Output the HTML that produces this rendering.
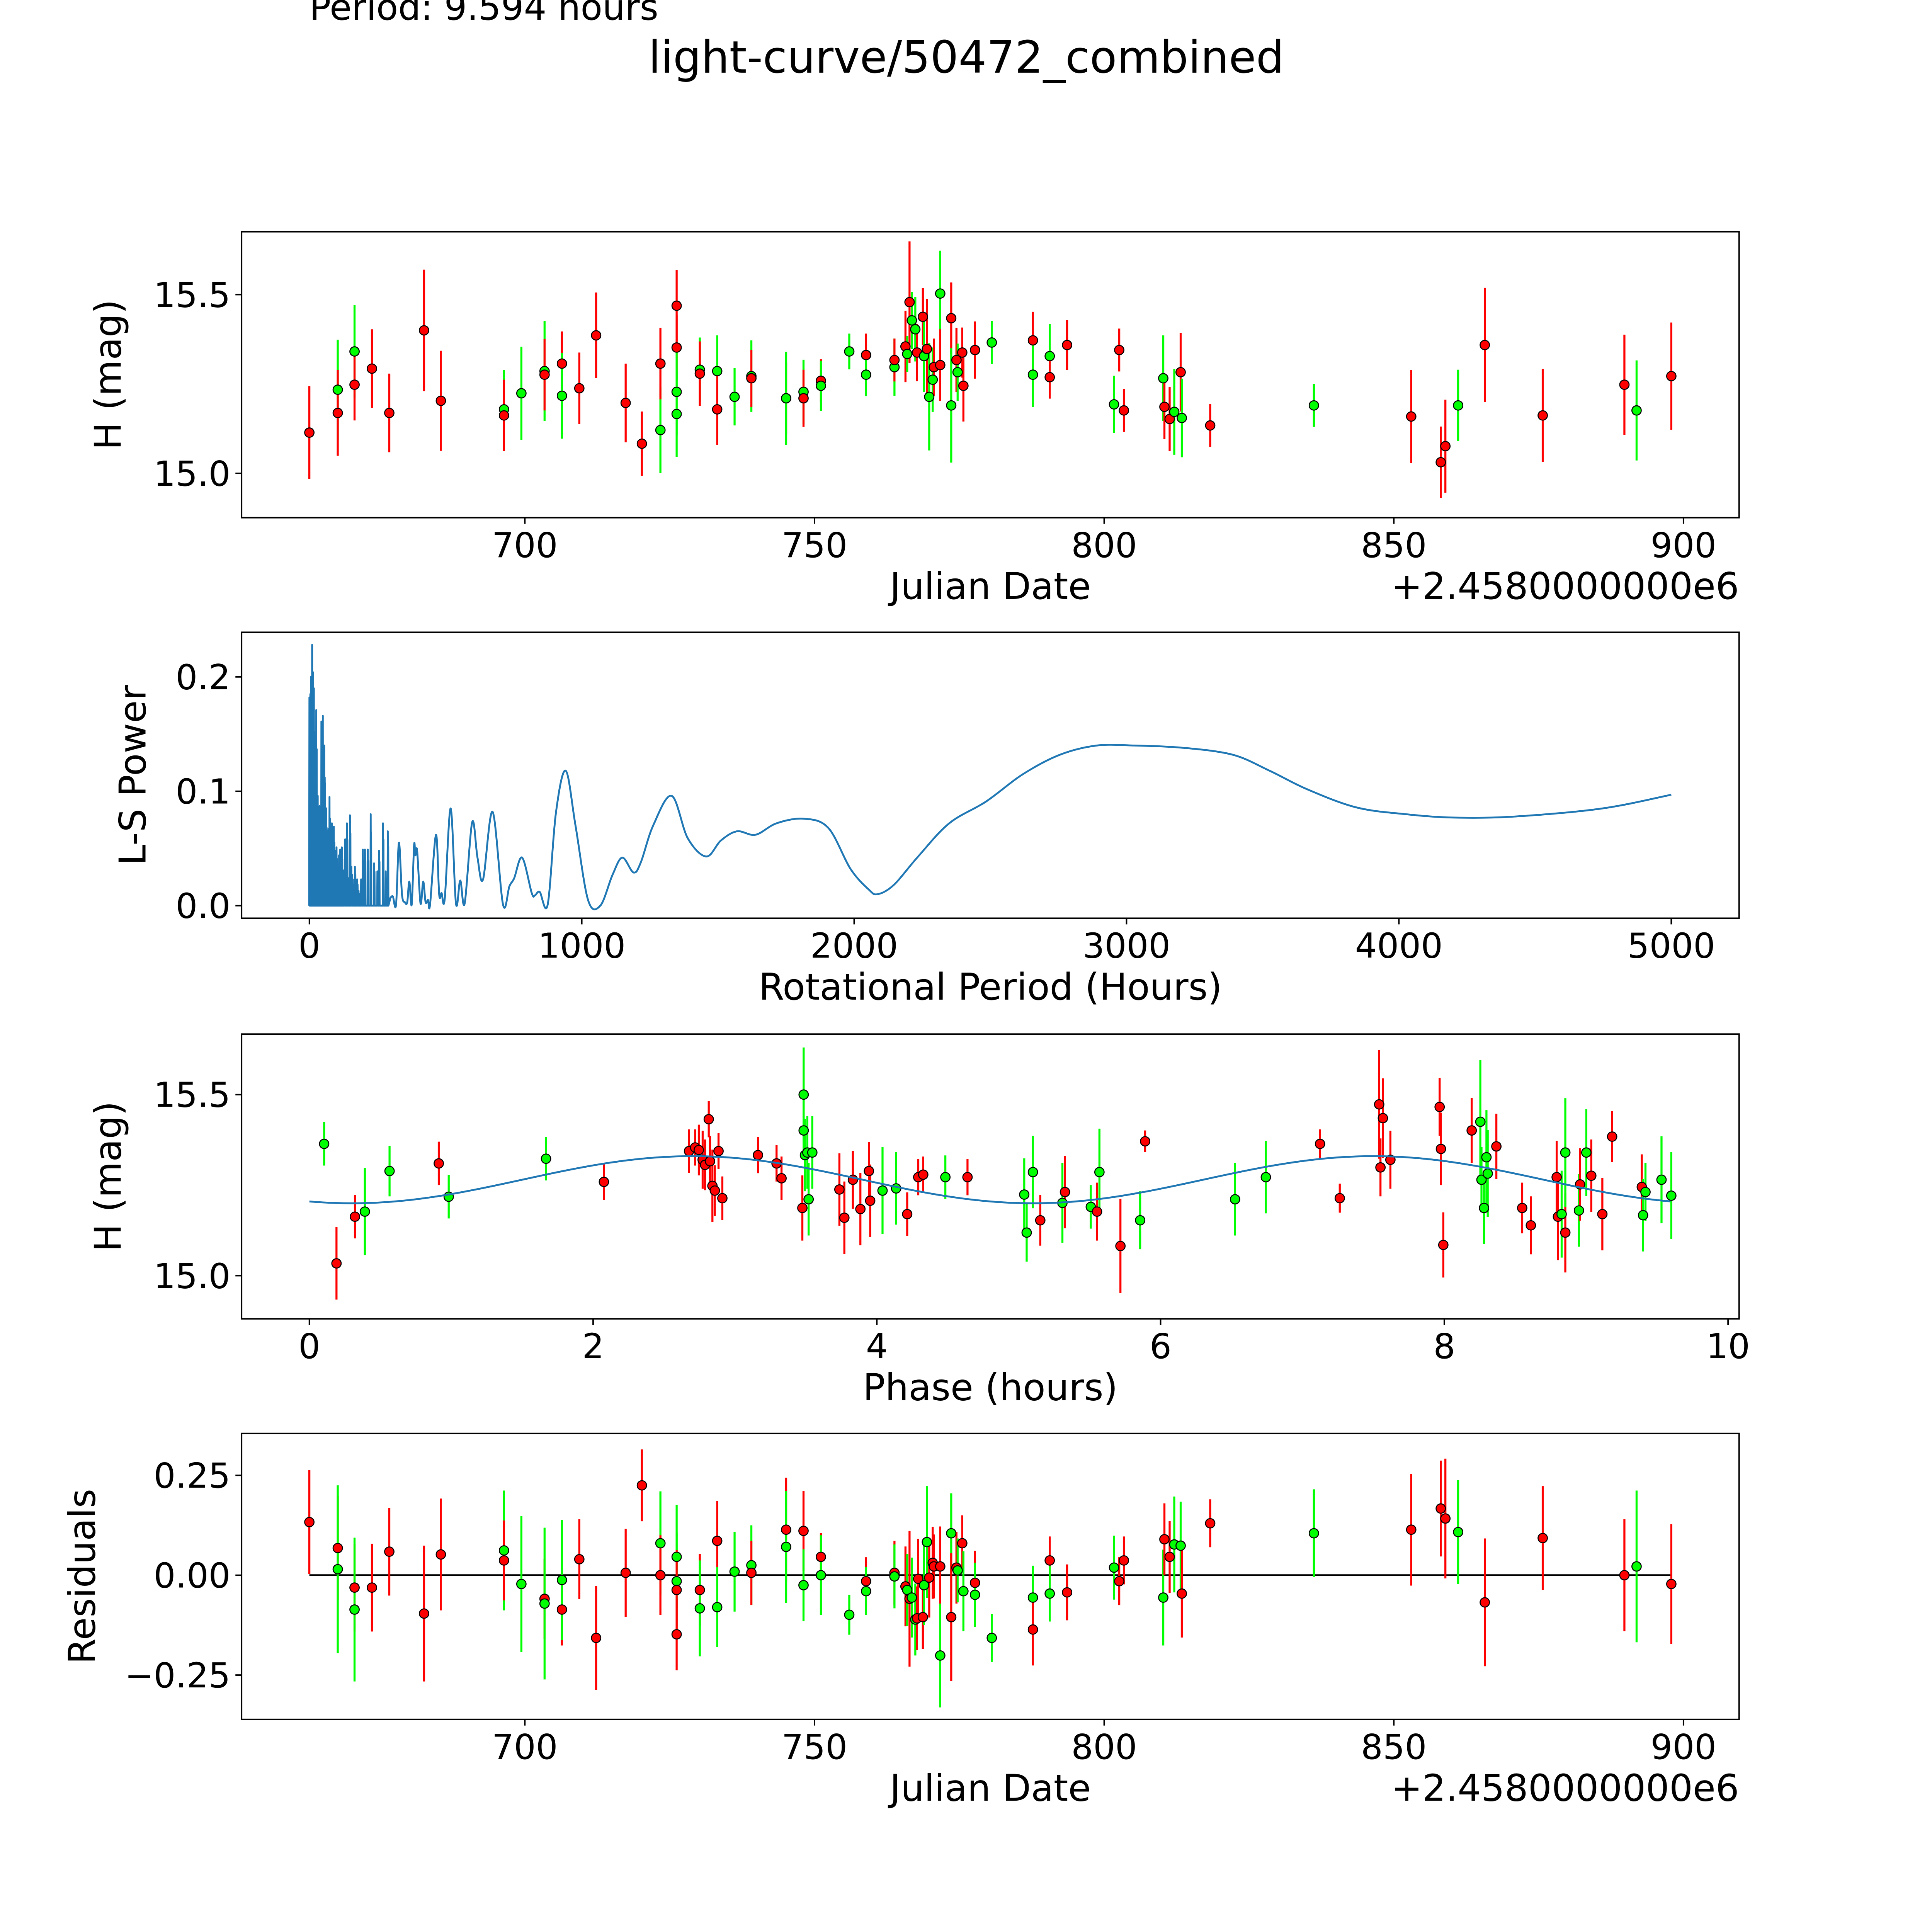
<!DOCTYPE html>
<html><head><meta charset="utf-8"><style>
html,body{margin:0;padding:0;background:#fff;width:100%;height:100%;overflow:hidden;}
svg{display:block;position:absolute;left:0;top:0;width:100vw;height:100vh;font-family:"DejaVu Sans","Liberation Sans",sans-serif;}
</style></head><body>
<svg id="fig" viewBox="0 0 1567.5 1567.5" preserveAspectRatio="none" xmlns="http://www.w3.org/2000/svg">
<rect width="1567.5" height="1567.5" fill="#fff"/>
<text x="251" y="16" font-size="29">Period: 9.594 hours</text>
<text x="784" y="59" font-size="36" text-anchor="middle">light-curve/50472_combined</text>
<g id="g1"></g>
<g id="g2"></g>
<g id="g3"></g>
<g id="g4"></g>
</svg>
<script>
// ---------- Panel 1 data: Julian date offset, H mag, error, filter ----------
const lcDate=[662.8,667.7,667.7,670.6,670.6,673.6,676.6,682.6,685.5,696.4,696.4,699.4,703.4,703.4,706.4,706.4,709.4,712.3,717.4,720.2,723.4,723.4,726.2,726.2,726.2,726.2,730.2,730.2,733.2,733.2,736.2,739.1,739.1,745.1,745.1,748.1,748.1,751.1,751.1,756.0,758.9,758.9,763.8,763.8,765.7,766.0,766.4,766.8,767.4,767.7,768.7,768.9,769.4,769.8,770.4,770.6,771.7,771.7,773.6,773.6,774.5,774.7,775.5,775.7,777.7,780.6,787.7,787.7,790.6,790.6,793.6,801.7,802.6,803.4,810.2,810.4,811.3,812.1,813.2,813.4,818.3,836.2,853.0,858.1,858.9,861.1,865.7,875.7,889.8,891.9,897.9];
const lcMag=[15.114,15.234,15.169,15.341,15.248,15.293,15.169,15.400,15.203,15.179,15.162,15.224,15.286,15.276,15.307,15.217,15.238,15.386,15.197,15.083,15.121,15.307,15.469,15.352,15.228,15.166,15.290,15.279,15.286,15.179,15.214,15.272,15.266,15.210,15.210,15.228,15.210,15.259,15.245,15.341,15.331,15.276,15.297,15.317,15.355,15.334,15.479,15.428,15.403,15.338,15.438,15.328,15.348,15.214,15.262,15.297,15.503,15.303,15.434,15.190,15.317,15.283,15.338,15.245,15.345,15.366,15.372,15.276,15.328,15.269,15.359,15.193,15.345,15.176,15.266,15.186,15.152,15.172,15.283,15.155,15.134,15.190,15.159,15.031,15.076,15.190,15.359,15.162,15.248,15.176,15.272];
const lcErr=[0.13,0.14,0.12,0.13,0.10,0.11,0.11,0.17,0.14,0.11,0.10,0.13,0.14,0.10,0.09,0.12,0.10,0.12,0.11,0.09,0.12,0.10,0.10,0.09,0.12,0.12,0.09,0.09,0.10,0.10,0.08,0.10,0.08,0.10,0.13,0.09,0.08,0.06,0.07,0.05,0.06,0.06,0.08,0.06,0.10,0.05,0.17,0.08,0.09,0.08,0.08,0.10,0.14,0.15,0.09,0.08,0.12,0.10,0.10,0.16,0.09,0.08,0.07,0.10,0.08,0.06,0.08,0.09,0.09,0.06,0.07,0.08,0.06,0.06,0.12,0.09,0.09,0.12,0.11,0.11,0.06,0.06,0.13,0.10,0.13,0.10,0.16,0.13,0.14,0.14,0.15];
const lcBand=["r","g","r","g","r","r","r","r","r","g","r","g","g","r","r","g","r","r","r","r","g","r","r","r","g","g","g","r","g","r","g","g","r","r","g","g","r","r","g","g","r","g","g","r","r","g","r","g","g","r","r","g","r","g","g","r","g","r","r","g","r","g","r","r","r","g","r","g","g","r","r","g","r","r","g","r","r","g","r","g","r","g","r","r","r","g","r","r","r","g","r"];

// ---------- Panel 2 data: Lomb-Scargle periodogram ----------
const lsSpikePeriod=[0,3.5,5.9,8.2,10.0,13.5,16.4,25.2,30.5,36.9,41.0,44.0,49.2,54.5,57.4,61.5,66.2,70.3,73.8,78.5,82.6,89.7,93.8,99.6,104.3,109.0,113.1,119.0,123.1,127.7,131.3,137.7,144.2,148.8,154.1,159.4,167.0,175.2,180.5,189.9,196.3,203.9,214.5,225.0,237.3,249.6,255.5,270.1,280.1,287.7];
const lsSpikePower=[0.182,0.185,0.200,0.187,0.228,0.204,0.190,0.171,0.096,0.087,0.082,0.161,0.166,0.140,0.107,0.085,0.065,0.067,0.095,0.051,0.072,0.069,0.048,0.051,0.032,0.044,0.049,0.051,0.030,0.031,0.058,0.072,0.024,0.079,0.034,0.023,0.034,0.023,0.013,0.023,0.049,0.049,0.049,0.080,0.037,0.030,0.048,0.072,0.030,0.065];
const lsPeriod=[297.7,306.5,318.2,328.7,339.9,350.4,359.2,366.8,375.6,384.4,389.1,395.6,407.9,417.8,426.6,435.4,443.0,464.7,476.4,485.2,496.9,518.6,538.0,553.8,570.2,597.7,617.1,637.6,672.7,710.8,734.3,751.8,781.1,816.3,828.0,845.6,874.9,905,941,977,1023,1068,1113,1149,1190,1217,1262,1330,1389,1457,1511,1570,1638,1715,1815,1905,1987,2054,2086,2145,2235,2349,2484,2620,2756,2891,3027,3208,3389,3525,3661,3842,4023,4204,4430,4747,5000];
const lsPower=[0.007,0.008,0.001,0.055,0.010,0.003,0.003,0.021,0.001,0.053,0.044,0.048,0.002,0.021,0.003,0.005,0.001,0.062,0.010,0.011,0.006,0.085,0.002,0.022,0.002,0.073,0.042,0.023,0.082,0.001,0.017,0.024,0.042,0.011,0.009,0.012,0.001,0.081,0.118,0.070,0.005,0.000,0.027,0.042,0.029,0.038,0.070,0.096,0.059,0.043,0.057,0.065,0.062,0.072,0.076,0.068,0.032,0.014,0.010,0.018,0.043,0.072,0.091,0.115,0.132,0.140,0.140,0.138,0.132,0.118,0.102,0.086,0.080,0.077,0.078,0.085,0.097];

// ---------- Panel 3 data: phased light curve ----------
const phPhase=[0.104,0.191,0.321,0.391,0.565,0.912,0.982,1.668,2.076,2.676,2.719,2.745,2.772,2.789,2.815,2.824,2.841,2.858,2.884,2.911,3.162,3.293,3.328,3.484,3.484,3.475,3.493,3.510,3.519,3.545,3.736,3.771,3.831,3.884,3.944,3.953,4.040,4.136,4.214,4.292,4.327,4.483,4.639,5.039,5.056,5.100,5.152,5.308,5.326,5.508,5.552,5.569,5.717,5.856,5.891,6.525,6.742,7.124,7.263,7.541,7.550,7.567,7.620,7.967,7.976,7.993,8.193,8.254,8.262,8.280,8.297,8.306,8.367,8.549,8.610,8.792,8.801,8.827,8.853,8.853,8.949,8.957,9.001,9.036,9.114,9.183,9.392,9.401,9.418,9.531,9.600];
const phMag=[15.364,15.034,15.163,15.177,15.289,15.310,15.218,15.323,15.259,15.344,15.354,15.347,15.320,15.306,15.432,15.316,15.248,15.235,15.344,15.214,15.333,15.310,15.269,15.500,15.401,15.187,15.333,15.340,15.211,15.340,15.238,15.160,15.265,15.184,15.289,15.207,15.235,15.241,15.170,15.272,15.279,15.272,15.272,15.224,15.119,15.286,15.153,15.201,15.231,15.190,15.177,15.286,15.082,15.153,15.371,15.211,15.272,15.364,15.214,15.473,15.299,15.435,15.320,15.466,15.350,15.085,15.401,15.425,15.265,15.187,15.327,15.282,15.357,15.187,15.139,15.272,15.163,15.170,15.119,15.340,15.180,15.252,15.340,15.276,15.170,15.384,15.245,15.167,15.231,15.265,15.221];
const phErr=[0.06,0.10,0.06,0.12,0.07,0.06,0.06,0.06,0.05,0.06,0.05,0.07,0.08,0.07,0.05,0.07,0.10,0.07,0.05,0.06,0.05,0.05,0.06,0.13,0.08,0.09,0.10,0.10,0.10,0.10,0.10,0.10,0.08,0.10,0.08,0.10,0.12,0.10,0.06,0.05,0.05,0.06,0.05,0.10,0.08,0.10,0.07,0.11,0.10,0.06,0.08,0.12,0.13,0.08,0.03,0.10,0.10,0.04,0.04,0.15,0.08,0.11,0.08,0.08,0.10,0.09,0.09,0.17,0.09,0.10,0.13,0.12,0.09,0.07,0.08,0.10,0.12,0.12,0.11,0.15,0.10,0.10,0.12,0.10,0.10,0.07,0.09,0.10,0.08,0.12,0.12];
const phBand=["g","r","r","g","g","r","g","g","r","r","r","r","r","r","r","r","r","r","r","r","r","r","r","g","g","r","g","g","g","g","r","r","r","r","r","r","g","g","r","r","r","g","r","g","g","g","r","g","r","g","r","g","r","g","r","g","g","r","r","r","r","r","r","r","r","r","r","g","g","g","g","g","r","r","r","r","r","g","r","g","g","r","g","r","r","r","r","g","g","g","g"];
// fitted sinusoid parameters: mean, amplitude, period (h), phase of minimum (h), fold period (h)
const fitParams=[15.265,0.065,4.8,0.3,9.594];

// ---------- Panel 4 data: residuals ----------
const resDate=[662.8,667.7,667.7,670.6,670.6,673.6,676.6,682.6,685.5,696.4,696.4,699.4,703.4,703.4,706.4,706.4,709.4,712.3,717.4,720.2,723.4,723.4,726.2,726.2,726.2,726.2,730.2,730.2,733.2,733.2,736.2,739.1,739.1,745.1,745.1,748.1,748.1,751.1,751.1,756.0,758.9,758.9,763.8,763.8,765.7,766.0,766.4,766.8,767.4,767.7,767.9,768.7,768.9,769.4,769.8,770.4,770.6,771.7,771.7,773.6,773.6,774.5,774.7,775.5,775.7,777.7,777.7,780.6,787.7,787.7,790.6,790.6,793.6,801.7,802.6,803.4,810.2,810.4,811.3,812.1,813.2,813.4,818.3,836.2,853.0,858.1,858.9,861.1,865.7,875.7,889.8,891.9,897.9];
const resVal=[0.133,0.068,0.015,-0.031,-0.086,-0.031,0.059,-0.096,0.052,0.062,0.037,-0.022,-0.059,-0.071,-0.086,-0.012,0.040,-0.157,0.006,0.225,0.080,0.000,0.046,-0.015,-0.037,-0.148,-0.037,-0.083,0.086,-0.080,0.009,0.025,0.006,0.114,0.071,0.111,-0.025,0.046,0.000,-0.099,-0.015,-0.040,0.006,-0.003,-0.028,-0.037,-0.059,-0.056,-0.111,-0.108,-0.009,-0.105,-0.025,0.083,-0.006,0.031,0.022,0.022,-0.201,0.105,-0.105,0.019,0.012,0.080,-0.040,-0.019,-0.049,-0.157,-0.056,-0.136,0.037,-0.046,-0.043,0.019,-0.015,0.037,-0.056,0.090,0.046,0.077,0.074,-0.046,0.130,0.105,0.114,0.167,0.142,0.108,-0.068,0.093,0.000,0.022,-0.022];
const resErr=[0.13,0.13,0.21,0.11,0.18,0.11,0.11,0.17,0.14,0.15,0.10,0.17,0.10,0.19,0.09,0.15,0.10,0.13,0.11,0.09,0.13,0.10,0.13,0.12,0.10,0.09,0.09,0.12,0.10,0.10,0.10,0.10,0.08,0.13,0.14,0.10,0.09,0.06,0.10,0.05,0.06,0.06,0.08,0.08,0.10,0.09,0.17,0.10,0.09,0.08,0.10,0.08,0.10,0.14,0.10,0.09,0.08,0.10,0.13,0.10,0.16,0.09,0.08,0.07,0.10,0.08,0.08,0.06,0.08,0.09,0.06,0.07,0.07,0.08,0.06,0.06,0.12,0.09,0.09,0.12,0.11,0.11,0.06,0.11,0.14,0.12,0.15,0.13,0.16,0.13,0.14,0.19,0.15];
const resBand=["r","r","g","r","g","r","r","r","r","g","r","g","r","g","r","g","r","r","r","r","g","r","g","g","r","r","r","g","r","g","g","g","r","r","g","r","g","r","g","g","r","g","r","g","r","g","r","g","g","r","r","r","g","g","r","r","r","r","g","g","r","r","g","r","g","r","g","g","g","r","r","g","r","g","r","r","g","r","r","g","g","r","r","g","r","r","r","g","r","r","r","g","r"];

const xTicksDate=[700,750,800,850,900];
const yTicksMag=[15.0,15.5];
const xTicksPeriod=[0,1000,2000,3000,4000,5000];
const yTicksPower=[0.0,0.1,0.2];
const xTicksPhase=[0,2,4,6,8,10];
const yTicksRes=[-0.25,0,0.25];

const NS="http://www.w3.org/2000/svg";
function mk(parent,tag,attrs){const e=document.createElementNS(NS,tag);for(const k in attrs)e.setAttribute(k,attrs[k]);parent.appendChild(e);return e;}
function lin(d0,d1,p0,p1){return v=>p0+(v-d0)*(p1-p0)/(d1-d0);}
const L=196,R=1411;

function axes(g,top,bot,sx,sy,xt,xl,yt,yl,xlabel,ylabel,ylabX,offset,name){
  for(const t of xt){
    const x=sx(t);
    const tk=mk(g,'line',{x1:x,x2:x,y1:bot,y2:bot+5,stroke:'#000','stroke-width':1.2});
    
    
    const tx=mk(g,'text',{x:x,y:bot+32,'font-size':28,'text-anchor':'middle'});
    
    
    tx.textContent=xl(t);
  }
  for(const t of yt){
    const y=sy(t);
    const tk=mk(g,'line',{x1:L-5,x2:L,y1:y,y2:y,stroke:'#000','stroke-width':1.2});
    
    
    const tx=mk(g,'text',{x:L-9,y:y+10,'font-size':28,'text-anchor':'end'});
    
    
    tx.textContent=yl(t);
  }
  const fr=mk(g,'rect',{x:L,y:top,width:R-L,height:bot-top,fill:'none',stroke:'#000','stroke-width':1.2});
  
  
  const xa=mk(g,'text',{x:(L+R)/2,y:bot+66,'font-size':30,'text-anchor':'middle'});
  
  
  xa.textContent=xlabel;
  const ya=mk(g,'text',{x:ylabX,y:(top+bot)/2,'font-size':30,'text-anchor':'middle',transform:`rotate(-90 ${ylabX} ${(top+bot)/2})`});
  
  
  ya.textContent=ylabel;
  if(offset){
    const of=mk(g,'text',{x:R,y:bot+66,'font-size':30,'text-anchor':'end'});
    
    
    of.textContent=offset;
  }
}
function errPoints(g,xs,ys,es,bs,sx,sy,name){
  const col={r:'#ff0000',g:'#00ff00'};
  for(let i=0;i<xs.length;i++){
    const x=sx(xs[i]);
    const b=mk(g,'line',{x1:x,x2:x,y1:sy(ys[i]-es[i]),y2:sy(ys[i]+es[i]),stroke:col[bs[i]],'stroke-width':1.65});
    
    
  }
  for(let i=0;i<xs.length;i++){
    const c=mk(g,'circle',{cx:sx(xs[i]),cy:sy(ys[i]),r:3.8,fill:col[bs[i]],stroke:'#000','stroke-width':0.8});
    
    
  }
}
const fmtDate=t=>String(t);

// Panel 1
{
  const g=document.getElementById('g1');
  const top=188,bot=420;
  const sx=lin(651.1,909.6,L,R), sy=lin(14.876,15.676,bot,top);
  axes(g,top,bot,sx,sy,xTicksDate,fmtDate,yTicksMag,t=>t.toFixed(1),'Julian Date','H (mag)',98,'+2.4580000000e6','light-curve');
  errPoints(g,lcDate,lcMag,lcErr,lcBand,sx,sy,'light-curve');
}
// Panel 2
{
  const g=document.getElementById('g2');
  const top=513,bot=745;
  const sx=lin(-249,5249,L,R), sy=lin(-0.011,0.239,bot,top);
  axes(g,top,bot,sx,sy,xTicksPeriod,fmtDate,yTicksPower,t=>t.toFixed(1),'Rotational Period (Hours)','L-S Power',118,null,'periodogram');
  const pts=[];
  for(let i=0;i<lsSpikePeriod.length;i++){
    const p=lsSpikePeriod[i];
    pts.push([sx(p-0.9),sy(0)]);
    pts.push([sx(p),sy(lsSpikePower[i])]);
    pts.push([sx(p+0.9),sy(0)]);
    pts.push([sx(p+1.8),sy(lsSpikePower[i]*0.8)]);
    pts.push([sx(p+2.4),sy(0)]);
  }
  let d='M'+pts.map(p=>p[0].toFixed(2)+','+p[1].toFixed(2)).join(' L');
  // smooth part: Catmull-Rom through the sampled points
  const sp=lsPeriod.map((p,i)=>[sx(p),sy(lsPower[i])]);
  d+=' L'+sp[0][0].toFixed(2)+','+sp[0][1].toFixed(2);
  for(let i=0;i<sp.length-1;i++){
    const p0=sp[Math.max(0,i-1)],p1=sp[i],p2=sp[i+1],p3=sp[Math.min(sp.length-1,i+2)];
    const c1=[p1[0]+(p2[0]-p0[0])/6,p1[1]+(p2[1]-p0[1])/6];
    const c2=[p2[0]-(p3[0]-p1[0])/6,p2[1]-(p3[1]-p1[1])/6];
    d+=` C${c1[0].toFixed(2)},${c1[1].toFixed(2)} ${c2[0].toFixed(2)},${c2[1].toFixed(2)} ${p2[0].toFixed(2)},${p2[1].toFixed(2)}`;
  }
  const pl=mk(g,'path',{d:d,fill:'none',stroke:'#1f77b4','stroke-width':1.5,'stroke-linejoin':'round'});
  
  
}
// Panel 3
{
  const g=document.getElementById('g3');
  const top=839,bot=1070;
  const sx=lin(-0.478,10.078,L,R), sy=lin(14.881,15.667,bot,top);
  axes(g,top,bot,sx,sy,xTicksPhase,fmtDate,yTicksMag,t=>t.toFixed(1),'Phase (hours)','H (mag)',98,null,'phase');
  errPoints(g,phPhase,phMag,phErr,phBand,sx,sy,'phase');
  const [m,a,P,p0,Pf]=fitParams;
  const pts=[];
  for(let k=0;k<=200;k++){const p=Pf*k/200;pts.push(sx(p)+','+sy(m-a*Math.cos(2*Math.PI*(p-p0)/P)));}
  const pl=mk(g,'polyline',{points:pts.join(' '),fill:'none',stroke:'#1f77b4','stroke-width':1.5});
  
  
}
// Panel 4
{
  const g=document.getElementById('g4');
  const top=1163,bot=1395;
  const sx=lin(651.1,909.6,L,R), sy=lin(-0.361,0.355,bot,top);
  axes(g,top,bot,sx,sy,xTicksDate,fmtDate,yTicksRes,t=>(t<0?'\u22120.25':t.toFixed(2)),'Julian Date','Residuals',77,'+2.4580000000e6','residuals');
  const zl=mk(g,'line',{x1:sx(resDate[0]),x2:sx(resDate[resDate.length-1]),y1:sy(0),y2:sy(0),stroke:'#000','stroke-width':1.5});
  
  
  errPoints(g,resDate,resVal,resErr,resBand,sx,sy,'residuals');
}
</script>
</body></html>
